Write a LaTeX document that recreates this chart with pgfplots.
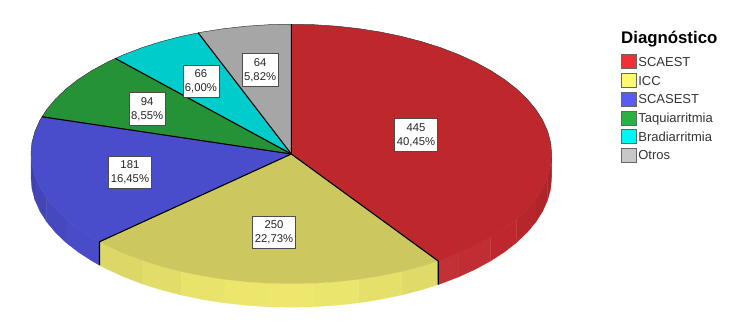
\documentclass[border=0pt]{standalone}
\usepackage{pgfplots}
\pgfplotsset{compat=1.18}
\usepackage{fontspec}
\setmainfont{Liberation Sans}
\definecolor{cRed}{HTML}{BE282D}
\definecolor{cYel}{HTML}{CDC75F}
\definecolor{cBlu}{HTML}{4A4DCB}
\definecolor{cGre}{HTML}{259238}
\definecolor{cCya}{HTML}{00CCCC}
\definecolor{cGry}{HTML}{A6A6A6}
\definecolor{ya}{RGB}{224,219,104}
\definecolor{yb}{RGB}{229,224,106}
\definecolor{yc}{RGB}{234,229,108}
\definecolor{yd}{RGB}{237,232,109}
\definecolor{ye}{RGB}{236,231,108}
\definecolor{yf}{RGB}{232,227,107}
\definecolor{yg}{RGB}{226,221,105}
\definecolor{yh}{RGB}{220,215,102}
\definecolor{la}{RGB}{240,48,56}
\definecolor{lb}{RGB}{255,250,112}
\definecolor{lc}{RGB}{88,92,245}
\definecolor{ld}{RGB}{44,176,68}
\definecolor{le}{RGB}{0,245,245}
\definecolor{lf}{RGB}{200,200,200}
\tikzset{lab/.style={draw=black!70,fill=white,line width=0.7pt,align=center,inner xsep=2pt,inner ysep=4.6pt,
  font=\fontsize{11.3}{14}\selectfont,text=black!85}}
\pgfplotsset{
  side/.style={fill=#1,draw=#1,line width=0.3pt,forget plot},
  wedge/.style={fill=#1,draw=#1,line width=0.1pt,forget plot},
  rad/.style={draw=black,line width=1.1pt,forget plot},
  swatch/.style={legend image code/.code={\draw[draw=black!60,line width=0.9pt,fill=#1] (0pt,-7pt) rectangle (14.5pt,7pt);\path (16.5pt,0pt);}}
}
\begin{document}
\begin{tikzpicture}
\begin{axis}[
  scale only axis, width=750pt, height=327pt,
  xmin=-1.1191, xmax=1.7622, ymin=-1.3333, ymax=1.1869,
  hide axis, clip=false,
  legend cell align=left,
  legend style={at={(rel axis cs:0.8280,0.8400)},anchor=north west,draw=none,fill=none,inner sep=0pt,
    font=\fontsize{13}{13}\selectfont,text=black!80,
    nodes={inner sep=0pt,minimum height=18.7pt,text depth=0pt},
    row sep=0pt},
]
% --- page frame
\path (rel axis cs:0,0) rectangle (rel axis cs:1,1);
% --- side of the disc: red
\addplot[side=cRed!88!black] coordinates {(1,0)(.9962,-.0872)(.9848,-.1736)(.9848,-.3546)(.9962,-.2682)(1,-.181)(1,0)};
\addplot[side=cRed!92!black] coordinates {(.9848,-.1736)(.9659,-.2588)(.9397,-.3420)(.9397,-.5230)(.9659,-.4398)(.9848,-.3546)(.9848,-.1736)};
\addplot[side=cRed!96!black] coordinates {(.9397,-.3420)(.9063,-.4226)(.8660,-.5)(.8660,-.681)(.9063,-.6036)(.9397,-.5230)(.9397,-.3420)};
\addplot[side=cRed] coordinates {(.8660,-.5)(.8192,-.5736)(.7660,-.6428)(.7660,-.8238)(.8192,-.7546)(.8660,-.681)(.8660,-.5)};
\addplot[side=cRed!97!white] coordinates {(.7660,-.6428)(.7071,-.7071)(.6428,-.7660)(.6428,-.9470)(.7071,-.8881)(.7660,-.8238)(.7660,-.6428)};
\addplot[side=cRed!96!white] coordinates {(.6428,-.7660)(.5736,-.8192)(.5647,-.8253)(.5647,-1.0063)(.5736,-1.0002)(.6428,-.9470)(.6428,-.7660)};
% --- side: yellow
\addplot[side=ya] coordinates {(.5647,-.8253)(.5,-.8660)(.4226,-.9063)(.4226,-1.0873)(.5,-1.047)(.5647,-1.0063)(.5647,-.8253)};
\addplot[side=yb] coordinates {(.4226,-.9063)(.3420,-.9397)(.2588,-.9659)(.2588,-1.1469)(.3420,-1.1207)(.4226,-1.0873)(.4226,-.9063)};
\addplot[side=yc] coordinates {(.2588,-.9659)(.1736,-.9848)(.0872,-.9962)(.0872,-1.1772)(.1736,-1.1658)(.2588,-1.1469)(.2588,-.9659)};
\addplot[side=yd] coordinates {(.0872,-.9962)(0,-1)(-.0872,-.9962)(-.0872,-1.1772)(0,-1.181)(.0872,-1.1772)(.0872,-.9962)};
\addplot[side=ye] coordinates {(-.0872,-.9962)(-.1736,-.9848)(-.2588,-.9659)(-.2588,-1.1469)(-.1736,-1.1658)(-.0872,-1.1772)(-.0872,-.9962)};
\addplot[side=yf] coordinates {(-.2588,-.9659)(-.3420,-.9397)(-.4226,-.9063)(-.4226,-1.0873)(-.3420,-1.1207)(-.2588,-1.1469)(-.2588,-.9659)};
\addplot[side=yg] coordinates {(-.4226,-.9063)(-.5,-.8660)(-.5736,-.8192)(-.5736,-1.0002)(-.5,-1.047)(-.4226,-1.0873)(-.4226,-.9063)};
\addplot[side=yh] coordinates {(-.5736,-.8192)(-.6428,-.7660)(-.7071,-.7071)(-.7367,-.6762)(-.7367,-.8572)(-.7071,-.8881)(-.6428,-.9470)(-.5736,-1.0002)(-.5736,-.8192)};
% --- side: blue
\addplot[side=cBlu!98!black] coordinates {(-.7367,-.6762)(-.7660,-.6428)(-.8192,-.5736)(-.8660,-.5)(-.8660,-.681)(-.8192,-.7546)(-.7660,-.8238)(-.7367,-.8572)(-.7367,-.6762)};
\addplot[side=cBlu!94!black] coordinates {(-.8660,-.5)(-.9063,-.4226)(-.9397,-.3420)(-.9397,-.5230)(-.9063,-.6036)(-.8660,-.681)(-.8660,-.5)};
\addplot[side=cBlu!90!black] coordinates {(-.9397,-.3420)(-.9659,-.2588)(-.9848,-.1736)(-.9848,-.3546)(-.9659,-.4398)(-.9397,-.5230)(-.9397,-.3420)};
\addplot[side=cBlu!85!black] coordinates {(-.9848,-.1736)(-.9962,-.0872)(-1,0)(-1,-.181)(-.9962,-.2682)(-.9848,-.3546)(-.9848,-.1736)};
% --- top face: wedges (445, 250, 181, 94, 66, 64)
\addplot[wedge=cRed] coordinates {(0,0)(0,1)(.0872,.9962)(.1736,.9848)(.2588,.9659)(.3420,.9397)(.4226,.9063)(.5,.8660)(.5736,.8192)(.6428,.7660)(.7071,.7071)(.7660,.6428)(.8192,.5736)(.8660,.5)(.9063,.4226)(.9397,.3420)(.9659,.2588)(.9848,.1736)(.9962,.0872)(1,0)(.9962,-.0872)(.9848,-.1736)(.9659,-.2588)(.9397,-.3420)(.9063,-.4226)(.8660,-.5)(.8192,-.5736)(.7660,-.6428)(.7071,-.7071)(.6428,-.7660)(.5736,-.8192)(.5647,-.8253)(0,0)};
\addplot[wedge=cYel] coordinates {(0,0)(.5647,-.8253)(.5,-.8660)(.4226,-.9063)(.3420,-.9397)(.2588,-.9659)(.1736,-.9848)(.0872,-.9962)(0,-1)(-.0872,-.9962)(-.1736,-.9848)(-.2588,-.9659)(-.3420,-.9397)(-.4226,-.9063)(-.5,-.8660)(-.5736,-.8192)(-.6428,-.7660)(-.7071,-.7071)(-.7367,-.6762)(0,0)};
\addplot[wedge=cBlu] coordinates {(0,0)(-.7367,-.6762)(-.7660,-.6428)(-.8192,-.5736)(-.8660,-.5)(-.9063,-.4226)(-.9397,-.3420)(-.9659,-.2588)(-.9848,-.1736)(-.9962,-.0872)(-1,0)(-.9962,.0872)(-.9848,.1736)(-.9659,.2588)(-.9579,.2872)(0,0)};
\addplot[wedge=cGre] coordinates {(0,0)(-.9579,.2872)(-.9397,.3420)(-.9063,.4226)(-.8660,.5)(-.8192,.5736)(-.7660,.6428)(-.7071,.7071)(-.6762,.7367)(0,0)};
\addplot[wedge=cCya] coordinates {(0,0)(-.6762,.7367)(-.6428,.7660)(-.5736,.8192)(-.5,.8660)(-.4226,.9063)(-.3576,.9339)(0,0)};
\addplot[wedge=cGry] coordinates {(0,0)(-.3576,.9339)(-.3420,.9397)(-.2588,.9659)(-.1736,.9848)(-.0872,.9962)(0,1)(0,0)};
% --- rim of the far half and thin outline
\addplot[draw=black!75,line width=0.5pt,forget plot] coordinates {(-1,0)(-.9962,.0872)(-.9848,.1736)(-.9659,.2588)(-.9397,.3420)(-.9063,.4226)(-.8660,.5)(-.8192,.5736)(-.7660,.6428)(-.7071,.7071)(-.6428,.7660)(-.5736,.8192)(-.5,.8660)(-.4226,.9063)(-.3420,.9397)(-.2588,.9659)(-.1736,.9848)(-.0872,.9962)(0,1)(.0872,.9962)(.1736,.9848)(.2588,.9659)(.3420,.9397)(.4226,.9063)(.5,.8660)(.5736,.8192)(.6428,.7660)(.7071,.7071)(.7660,.6428)(.8192,.5736)(.8660,.5)(.9063,.4226)(.9397,.3420)(.9659,.2588)(.9848,.1736)(.9962,.0872)(1,0)};
% --- radii and vertical edges
\addplot[rad] coordinates {(0,1)(0,0)(.5647,-.8253)(.5647,-1.0063)};
\addplot[rad] coordinates {(0,0)(-.7367,-.6762)(-.7367,-.8572)};
\addplot[rad] coordinates {(0,0)(-.9579,.2872)};
\addplot[rad] coordinates {(0,0)(-.6762,.7367)};
\addplot[rad] coordinates {(0,0)(-.3576,.9339)};
% --- labels
\node[lab] at (axis cs:.479,.146) {445\\40,45\%};
\node[lab] at (axis cs:-.0665,-.605) {250\\22,73\%};
\node[lab] at (axis cs:-.620,-.143) {181\\16,45\%};
\node[lab] at (axis cs:-.554,.347) {94\\8,55\%};
\node[lab] at (axis cs:-.347,.559) {66\\6,00\%};
\node[lab] at (axis cs:-.120,.647) {64\\5,82\%};
% --- legend
\addlegendimage{swatch=la}\addlegendentry{SCAEST}
\addlegendimage{swatch=lb}\addlegendentry{ICC}
\addlegendimage{swatch=lc}\addlegendentry{SCASEST}
\addlegendimage{swatch=ld}\addlegendentry{Taquiarritmia}
\addlegendimage{swatch=le}\addlegendentry{Bradiarritmia}
\addlegendimage{swatch=lf}\addlegendentry{Otros}
\node[anchor=base west,inner sep=0pt,font=\fontsize{16.8}{17}\selectfont\bfseries,text=black] at (rel axis cs:0.8280,0.8675) {Diagnóstico};
\end{axis}
\end{tikzpicture}
\end{document}
